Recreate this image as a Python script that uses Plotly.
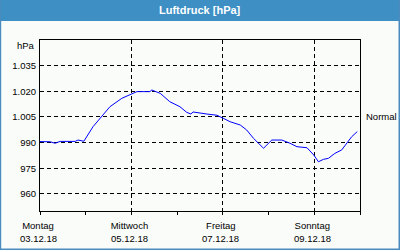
import plotly.graph_objects as go

# Time in days since Montag 03.12.18 00:00
tage = [0.0, 0.22, 0.33, 0.44, 0.77, 0.83, 0.92, 0.96, 1.16, 1.53, 1.79, 2.01, 2.12,
        2.41, 2.44, 2.63, 2.84, 3.06, 3.21, 3.30, 3.35, 3.65, 3.87, 4.01, 4.16, 4.38,
        4.52, 4.67, 4.89, 5.07, 5.29, 5.47, 5.62, 5.84, 5.99, 6.09, 6.20, 6.31, 6.45,
        6.60, 6.71, 6.82, 6.94]
druck = [990.6, 990.5, 989.6, 990.7, 990.7, 991.5, 991.0, 990.8, 999.3, 1011.0, 1015.9,
         1018.8, 1019.8, 1019.8, 1020.8, 1018.8, 1013.9, 1011.0, 1007.7, 1006.7, 1007.9,
         1006.7, 1006.0, 1004.2, 1002.2, 1000.3, 997.4, 992.5, 986.7, 991.5, 991.5, 989.6,
         987.6, 987.0, 982.7, 978.8, 980.2, 980.8, 983.7, 985.7, 989.6, 993.5, 996.4]

x_major_vals = [0, 2, 4, 6]
x_wochentage = ["Montag", "Mittwoch", "Freitag", "Sonntag"]
x_daten = ["03.12.18", "05.12.18", "07.12.18", "09.12.18"]
x_minor_vals = [1, 3, 5, 7]
y_tick_vals = [960, 975, 990, 1005, 1020, 1035]
y_tick_text = ["960", "975", "990", "1.005", "1.020", "1.035"]
titel = "Luftdruck [hPa]"
einheit = "hPa"
normal_label = "Normal"
normal_wert = 1005

BG = "#fafcfa"
BLUE = "#3d8fc4"
FONT = "Liberation Sans"
FS = 9.5

fig = go.Figure()
fig.add_trace(go.Scatter(x=tage, y=druck, mode="lines",
                         line=dict(color="#0000ff", width=1), hoverinfo="skip"))

W, H = 400, 250
L, R, T, B = 40, 40, 40, 39
pw, ph = W - L - R, H - T - B


def px(x):
    return (x - L) / pw


def py(y):
    return (H - B - y) / ph


shapes = [
    dict(type="rect", xref="paper", yref="paper", x0=px(0), x1=px(400), y0=py(21), y1=py(0),
         fillcolor=BLUE, line=dict(width=0), layer="above"),
    dict(type="rect", xref="paper", yref="paper", x0=px(0), x1=px(1.2), y0=py(250), y1=py(0),
         fillcolor="#4a8cc0", line=dict(width=0), layer="above"),
    dict(type="rect", xref="paper", yref="paper", x0=px(398.5), x1=px(400), y0=py(250), y1=py(0),
         fillcolor="#4a8cc0", line=dict(width=0), layer="above"),
    dict(type="rect", xref="paper", yref="paper", x0=px(0), x1=px(400), y0=py(250), y1=py(248.5),
         fillcolor="#4a8cc0", line=dict(width=0), layer="above"),
]

annotations = [
    dict(text="<b>" + titel + "</b>", xref="paper", yref="paper", x=px(200), y=py(10),
         xanchor="center", yanchor="middle", showarrow=False,
         font=dict(family=FONT, size=11, color="white")),
    dict(text=einheit, xref="paper", yref="paper", x=px(37), y=py(45),
         xanchor="right", yanchor="middle", showarrow=False,
         font=dict(family=FONT, size=FS, color="black")),
    dict(text=normal_label, xref="paper", yref="y", x=px(364), y=normal_wert,
         xanchor="left", yanchor="middle", showarrow=False,
         font=dict(family=FONT, size=FS, color="black")),
]
for xv, datum in zip(x_major_vals, x_daten):
    annotations.append(dict(text=datum, xref="x", yref="paper", x=xv, y=py(238),
                            xanchor="center", yanchor="middle", showarrow=False, xshift=-2,
                            font=dict(family=FONT, size=FS, color="black")))

fig.update_layout(
    width=W, height=H, margin=dict(l=L, r=R, t=T, b=B, pad=0),
    paper_bgcolor=BG, plot_bgcolor=BG, showlegend=False,
    shapes=shapes, annotations=annotations,
    font=dict(family=FONT, size=FS, color="black"),
    xaxis=dict(range=[0, 7], tickmode="array", tickvals=x_major_vals, ticktext=x_wochentage,
               showgrid=True, gridcolor="black", gridwidth=1, griddash="4px,3px",
               showline=True, linecolor="black", linewidth=1, mirror=True,
               ticks="outside", ticklen=3, tickcolor="black", zeroline=False,
               ticklabelshift=-2, ticklabelstandoff=3,
               minor=dict(tickvals=x_minor_vals, ticks="outside", ticklen=3,
                          tickcolor="black", showgrid=False)),
    yaxis=dict(range=[950, 1050], tickmode="array", tickvals=y_tick_vals, ticktext=y_tick_text,
               showgrid=True, gridcolor="black", gridwidth=1, griddash="4px,3px",
               showline=True, linecolor="black", linewidth=1, mirror=True,
               ticks="", zeroline=False, ticklabelstandoff=1),
)

fig.write_html("out.html")
